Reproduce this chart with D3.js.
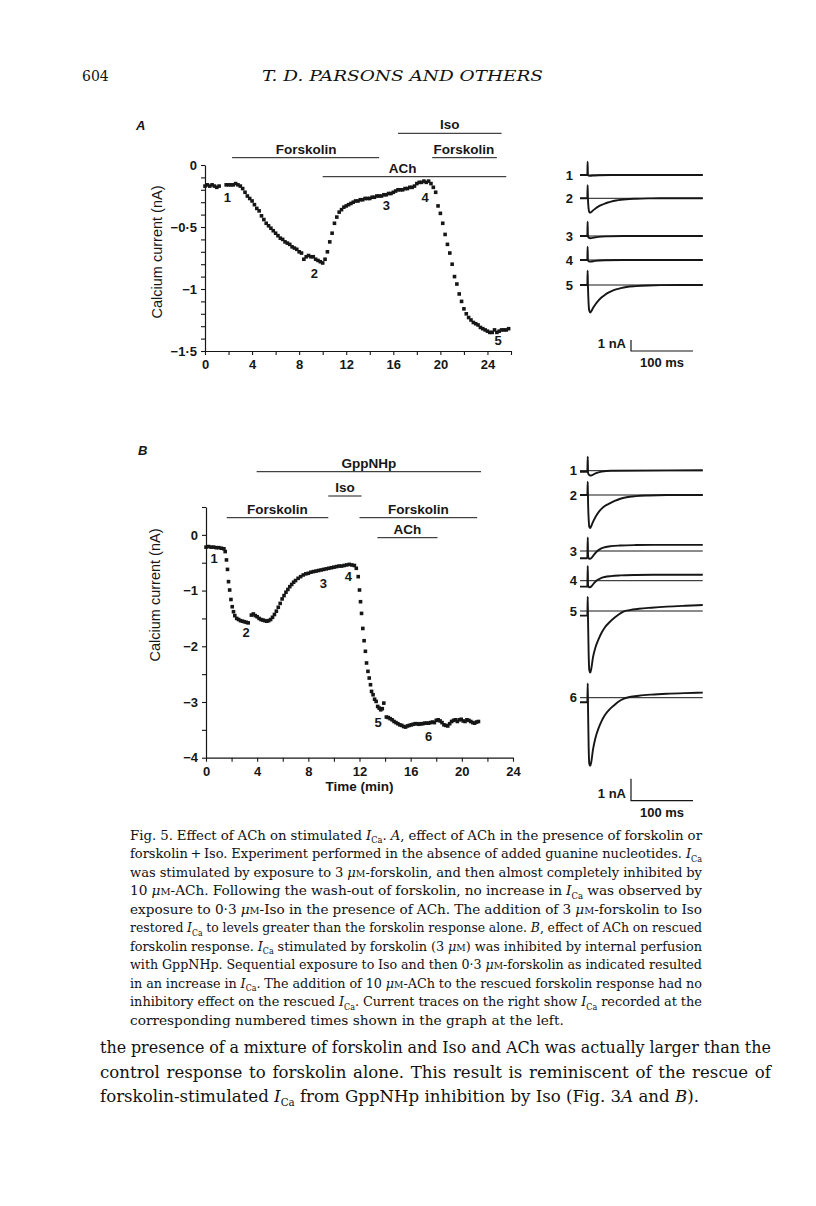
<!DOCTYPE html>
<html>
<head>
<meta charset="utf-8">
<script src="https://cdn.jsdelivr.net/npm/d3@7"></script>
<style>
  body { margin: 0; background: #fff; }
  svg { display: block; }
</style>
</head>
<body>
<svg id="page" width="816" height="1206"></svg>
<script>
'use strict'

// ---- panel A : time (min), calcium current (nA)
const aPoints = [
  [0, -0.17], [0.2, -0.16], [0.4, -0.17], [0.6, -0.16], [0.8, -0.17], [1.0, -0.18], [1.2, -0.17],
  [1.8, -0.16], [2.0, -0.16], [2.2, -0.16], [2.4, -0.16], [2.6, -0.15], [2.8, -0.16], [3.0, -0.17],
  [3.2, -0.19], [3.4, -0.22], [3.6, -0.25], [3.8, -0.27],
  [4.0, -0.29], [4.2, -0.32], [4.4, -0.35], [4.6, -0.37], [4.8, -0.41], [5.0, -0.44], [5.2, -0.47],
  [5.4, -0.49], [5.6, -0.51], [5.8, -0.53],
  [6.0, -0.55], [6.2, -0.57], [6.4, -0.59], [6.6, -0.60], [6.8, -0.62], [7.0, -0.63], [7.2, -0.64],
  [7.4, -0.66], [7.6, -0.67], [7.8, -0.68],
  [8.0, -0.70], [8.2, -0.71], [8.4, -0.76], [8.6, -0.74], [8.8, -0.73], [9.0, -0.74], [9.2, -0.74],
  [9.4, -0.76], [9.6, -0.77], [9.8, -0.78],
  [10.0, -0.79], [10.2, -0.76], [10.4, -0.70], [10.6, -0.62], [10.8, -0.55], [11.0, -0.47], [11.2, -0.42],
  [11.4, -0.38], [11.6, -0.36], [11.8, -0.34],
  [12.0, -0.33], [12.2, -0.32], [12.4, -0.31], [12.6, -0.30], [12.8, -0.29], [13.0, -0.29], [13.2, -0.28],
  [13.4, -0.28], [13.6, -0.27], [13.8, -0.27],
  [14.0, -0.27], [14.2, -0.26], [14.4, -0.26], [14.6, -0.25], [14.8, -0.25], [15.0, -0.25], [15.2, -0.24],
  [15.4, -0.24], [15.6, -0.23], [15.8, -0.23],
  [16.0, -0.22], [16.2, -0.21], [16.4, -0.20], [16.6, -0.20], [16.8, -0.20], [17.0, -0.19], [17.2, -0.19],
  [17.4, -0.18], [17.6, -0.18], [17.8, -0.17],
  [18.0, -0.15], [18.2, -0.14], [18.4, -0.14], [18.6, -0.13], [18.8, -0.14], [19.0, -0.13], [19.2, -0.15],
  [19.4, -0.18], [19.6, -0.22], [19.8, -0.33],
  [20.0, -0.39], [20.2, -0.47], [20.4, -0.56], [20.6, -0.64], [20.8, -0.71], [21.0, -0.80], [21.2, -0.90],
  [21.4, -0.96], [21.6, -1.04], [21.8, -1.10],
  [22.0, -1.16], [22.2, -1.20], [22.4, -1.23], [22.6, -1.25], [22.8, -1.27], [23.0, -1.28], [23.2, -1.29],
  [23.4, -1.31], [23.6, -1.32], [23.8, -1.33],
  [24.0, -1.34], [24.2, -1.35], [24.4, -1.35], [24.6, -1.33], [24.8, -1.35], [25.0, -1.34], [25.2, -1.33],
  [25.4, -1.33], [25.6, -1.33], [25.8, -1.32]
];
const aXTicks = [0, 4, 8, 12, 16, 20, 24];
const aXMinor = [2, 6, 10, 14, 18, 22, 26];
const aYTicks = [0, -0.5, -1, -1.5];
const aYMinor = [-0.1, -0.2, -0.3, -0.4, -0.6, -0.7, -0.8, -0.9, -1.1, -1.2, -1.3, -1.4];
const aMarks = ['1', '2', '3', '4', '5'];
const aMarkAt = [[1.9, -0.30], [9.3, -0.91], [15.4, -0.36], [18.7, -0.30], [24.9, -1.45]];
const aDrugs = ['Iso', 'Forskolin', 'Forskolin', 'ACh'];
const aDrugFrom = [16.4, 2.3, 19.3, 10.0];
const aDrugTo = [25.2, 14.8, 24.8, 25.6];
const aDrugLabelAt = [20.8, 8.6, 22.0, 16.8];
const aDrugRow = [0, 1, 1, 2];

// ---- panel B
const bPoints = [
  [0, -0.22], [0.2, -0.21], [0.4, -0.22], [0.6, -0.22], [0.8, -0.23], [1.0, -0.23], [1.2, -0.24], [1.4, -0.25],
  [1.5, -0.30], [1.6, -0.45], [1.68, -0.62], [1.76, -0.84], [1.85, -0.99], [1.95, -1.16], [2.05, -1.29],
  [2.15, -1.38], [2.25, -1.45], [2.4, -1.50], [2.55, -1.52], [2.7, -1.54], [2.85, -1.55], [3.0, -1.56],
  [3.15, -1.57], [3.3, -1.58],
  [3.55, -1.44], [3.7, -1.42], [3.85, -1.45], [4.0, -1.47], [4.15, -1.50], [4.3, -1.52], [4.45, -1.53],
  [4.6, -1.54], [4.75, -1.55], [4.9, -1.54], [5.05, -1.52], [5.2, -1.48], [5.35, -1.43], [5.5, -1.37],
  [5.65, -1.30], [5.8, -1.23], [5.95, -1.15], [6.1, -1.09], [6.25, -1.03], [6.4, -0.98], [6.55, -0.93],
  [6.7, -0.89], [6.85, -0.85], [7.0, -0.82], [7.2, -0.78], [7.4, -0.75], [7.6, -0.72], [7.8, -0.70],
  [8.0, -0.69], [8.2, -0.67], [8.4, -0.66], [8.6, -0.65], [8.8, -0.64], [9.0, -0.63], [9.2, -0.62],
  [9.4, -0.61], [9.6, -0.60], [9.8, -0.59], [10.0, -0.58], [10.2, -0.57], [10.4, -0.56], [10.6, -0.56],
  [10.8, -0.55], [11.0, -0.54], [11.2, -0.53], [11.4, -0.54], [11.6, -0.55], [11.75, -0.60],
  [11.9, -0.75], [12.0, -0.99], [12.08, -1.20], [12.16, -1.41], [12.26, -1.68], [12.36, -1.90],
  [12.46, -2.09], [12.55, -2.30], [12.66, -2.45], [12.76, -2.57], [12.86, -2.69], [12.94, -2.81],
  [13.06, -2.87], [13.18, -2.95], [13.3, -2.99], [13.42, -3.08], [13.54, -3.11], [13.66, -3.14],
  [13.78, -3.12], [13.9, -3.02],
  [14.1, -3.27], [14.25, -3.28], [14.4, -3.30], [14.55, -3.32], [14.7, -3.35], [14.85, -3.37], [15.0, -3.39],
  [15.15, -3.41], [15.3, -3.42], [15.45, -3.44], [15.6, -3.45], [15.75, -3.43], [15.9, -3.42], [16.05, -3.41],
  [16.2, -3.40], [16.35, -3.39], [16.5, -3.39], [16.65, -3.40], [16.8, -3.39], [16.95, -3.39], [17.1, -3.38],
  [17.25, -3.38], [17.4, -3.38], [17.55, -3.37], [17.7, -3.36], [17.85, -3.37], [18.0, -3.33], [18.15, -3.32],
  [18.3, -3.34], [18.45, -3.37], [18.6, -3.41], [18.75, -3.42], [18.9, -3.43], [19.05, -3.39], [19.2, -3.35],
  [19.35, -3.33], [19.5, -3.32], [19.65, -3.35], [19.8, -3.32], [19.95, -3.31], [20.1, -3.34], [20.25, -3.35],
  [20.4, -3.32], [20.55, -3.33], [20.7, -3.35], [20.85, -3.37], [21.0, -3.38], [21.15, -3.36], [21.3, -3.35]
];
const bXTicks = [0, 4, 8, 12, 16, 20, 24];
const bXMinor = [2, 6, 10, 14, 18, 22];
const bYTicks = [0, -1, -2, -3, -4];
const bYMinor = [0.5, -0.5, -1.5, -2.5, -3.5];
const bMarks = ['1', '2', '3', '4', '5', '6'];
const bMarkAt = [[0.63, -0.50], [3.13, -1.84], [9.17, -0.96], [11.13, -0.83], [13.45, -3.44], [17.4, -3.70]];
const bDrugs = ['GppNHp', 'Iso', 'Forskolin', 'Forskolin', 'ACh'];
const bDrugFrom = [3.96, 9.56, 1.62, 12.0, 13.4];
const bDrugTo = [21.5, 12.16, 9.56, 21.2, 18.1];
const bDrugRow = [0, 1, 2, 2, 3];

// ---- current traces (ms, nA relative to the thin zero line)
const tracesA = [
  [[0, 0], [11.8, 0], [12.3, 1.2], [12.8, 0], [15, -0.08], [20, -0.05], [30, -0.02], [50, 0], [198, 0]],
  [[0, 0], [11.8, 0], [12.3, 1.2], [12.8, 0], [13.8, -0.9], [15, -1.25], [16.5, -1.3], [18, -1.25], [21, -1.1],
    [25, -0.92], [30, -0.74], [35, -0.6], [40, -0.48], [45, -0.38], [50, -0.3], [58, -0.2], [66, -0.13],
    [75, -0.08], [90, -0.04], [110, -0.01], [130, 0], [198, 0]],
  [[0, 0], [11.8, 0], [12.3, 1.3], [12.8, 0], [14, -0.15], [17, -0.2], [22, -0.15], [30, -0.08], [45, -0.03],
    [70, 0], [198, 0]],
  [[0, 0], [11.8, 0], [12.3, 1.2], [12.8, 0], [14, -0.12], [17, -0.15], [24, -0.08], [40, -0.02], [70, 0], [198, 0]],
  [[0, 0], [11.8, 0], [12.3, 1.3], [12.8, 0], [13.8, -1.6], [15, -2.35], [16.5, -2.5], [18, -2.4], [21, -2.1],
    [25, -1.75], [30, -1.4], [35, -1.12], [40, -0.9], [45, -0.72], [50, -0.57], [58, -0.4], [66, -0.28],
    [75, -0.18], [90, -0.1], [110, -0.04], [130, -0.01], [198, 0]]
];
const tracesB = [
  [[0, -0.05], [11.8, -0.05], [12.5, 0.64], [13, -0.1], [15, -0.2], [18, -0.22], [25, -0.12], [35, -0.04],
    [50, 0], [198, 0.02]],
  [[0, 0], [11.8, 0], [12.5, 0.6], [13, -0.3], [14, -1.1], [15, -1.45], [16.5, -1.5], [18, -1.42], [21, -1.22],
    [25, -1.0], [30, -0.78], [35, -0.62], [40, -0.5], [48, -0.38], [56, -0.27], [65, -0.17], [75, -0.1],
    [90, -0.05], [110, -0.02], [140, 0], [198, 0]],
  [[0, -0.33], [11.8, -0.33], [12.5, 0.62], [13, -0.2], [14, -0.33], [16, -0.36], [19, -0.3], [23, -0.15],
    [28, 0], [33, 0.1], [40, 0.17], [50, 0.22], [65, 0.25], [90, 0.27], [130, 0.28], [198, 0.28]],
  [[0, -0.27], [11.8, -0.27], [12.5, 0.67], [13, -0.2], [14, -0.28], [16, -0.3], [19, -0.24], [23, -0.1],
    [28, 0.03], [33, 0.11], [40, 0.17], [50, 0.21], [65, 0.24], [90, 0.26], [130, 0.27], [198, 0.27]],
  [[0, -0.21], [11.8, -0.21], [12.5, 0.65], [13, -0.5], [14, -2.0], [15, -2.7], [16.5, -2.8], [18, -2.65],
    [21, -2.1], [25, -1.65], [30, -1.28], [35, -0.98], [40, -0.75], [48, -0.5], [56, -0.3], [63, -0.15],
    [70, -0.03], [80, 0.04], [95, 0.1], [115, 0.15], [140, 0.2], [170, 0.24], [198, 0.27]],
  [[0, -0.21], [11.8, -0.21], [12.5, 0.65], [13, -0.6], [14, -2.3], [15, -3.0], [16.5, -3.1], [18, -2.95],
    [21, -2.35], [25, -1.82], [30, -1.38], [35, -1.05], [40, -0.8], [48, -0.52], [56, -0.32], [63, -0.16],
    [70, -0.05], [80, 0.03], [95, 0.09], [115, 0.14], [140, 0.18], [170, 0.21], [198, 0.23]]
];

// ---- text
const captionLines = [
  'Fig. 5. Effect of ACh on stimulated {Ica}. {i:A}, effect of ACh in the presence of forskolin or',
  'forskolin\u2009+\u2009Iso. Experiment performed in the absence of added guanine nucleotides. {Ica}',
  'was stimulated by exposure to 3 {uM}-forskolin, and then almost completely inhibited by',
  '10 {uM}-ACh. Following the wash-out of forskolin, no increase in {Ica} was observed by',
  'exposure to 0\u00b73 {uM}-Iso in the presence of ACh. The addition of 3 {uM}-forskolin to Iso',
  'restored {Ica} to levels greater than the forskolin response alone. {i:B}, effect of ACh on rescued',
  'forskolin response. {Ica} stimulated by forskolin (3 {uM}) was inhibited by internal perfusion',
  'with GppNHp. Sequential exposure to Iso and then 0\u00b73 {uM}-forskolin as indicated resulted',
  'in an increase in {Ica}. The addition of 10 {uM}-ACh to the rescued forskolin response had no',
  'inhibitory effect on the rescued {Ica}. Current traces on the right show {Ica} recorded at the',
  'corresponding numbered times shown in the graph at the left.'
];
const bodyLines = [
  'the presence of a mixture of forskolin and Iso and ACh was actually larger than the',
  'control response to forskolin alone. This result is reminiscent of the rescue of',
  'forskolin-stimulated {Ica} from GppNHp inhibition by Iso (Fig. 3{i:A} and {i:B}).'
];

const SANS = "'Liberation Sans', Arial, Helvetica, sans-serif";
const SERIF = "'DejaVu Serif', 'Liberation Serif', serif";
const INK = '#161616';

const svg = d3.select('#page');

const xA = d3.scaleLinear().domain([0, 26]).range([205, 511]);
const yA = d3.scaleLinear().domain([-1.5, 0]).range([351, 165]);
const xB = d3.scaleLinear().domain([0, 24]).range([206, 513]);
const yB = d3.scaleLinear().domain([-4, 0.5]).range([757.7, 507]);

function fmtNum (d) {
  if (d === 0) return '0';
  return (d < 0 ? '\u2212' : '') + String(Math.abs(d)).replace('.', '\u00b7');
}

function styleAxis (sel) {
  sel.select('.domain').attr('stroke', INK).attr('stroke-width', 1.2);
  sel.selectAll('.tick line').attr('stroke', INK).attr('stroke-width', 1.1);
  sel.selectAll('.tick text')
    .attr('fill', INK)
    .style('font-family', SANS)
    .style('font-weight', 'bold')
    .style('font-size', '13px');
}

function drawGraph (o) {
  const g = svg.append('g');
  const x0 = o.x.range()[0];
  const yBottom = o.y.range()[0];

  // minor ticks
  g.append('g').attr('transform', `translate(0,${yBottom})`)
    .call(d3.axisBottom(o.x).tickValues(o.xMinor).tickSize(4).tickFormat(''))
    .call(s => s.select('.domain').remove())
    .call(styleAxis);
  g.append('g').attr('transform', `translate(${x0},0)`)
    .call(d3.axisLeft(o.y).tickValues(o.yMinor).tickSize(4).tickFormat(''))
    .call(s => s.select('.domain').remove())
    .call(styleAxis);

  // main axes
  g.append('g').attr('transform', `translate(0,${yBottom})`)
    .call(d3.axisBottom(o.x).tickValues(o.xTicks).tickSize(4).tickSizeOuter(0).tickPadding(5).tickFormat(fmtNum))
    .call(styleAxis);
  g.append('g').attr('transform', `translate(${x0},0)`)
    .call(d3.axisLeft(o.y).tickValues(o.yTicks).tickSize(4).tickSizeOuter(0).tickPadding(4).tickFormat(fmtNum))
    .call(styleAxis);

  // data points
  g.append('g').selectAll('rect')
    .data(o.points)
    .enter().append('rect')
      .attr('x', d => o.x(d[0]) - 1.8)
      .attr('y', d => o.y(d[1]) - 1.8)
      .attr('width', 3.6)
      .attr('height', 3.6)
      .attr('fill', INK);

  // numbered times
  g.append('g').selectAll('text')
    .data(o.marks)
    .enter().append('text')
      .attr('x', (d, i) => o.x(o.markAt[i][0]))
      .attr('y', (d, i) => o.y(o.markAt[i][1]))
      .attr('text-anchor', 'middle')
      .attr('fill', INK)
      .style('font-family', SANS)
      .style('font-weight', 'bold')
      .style('font-size', '13px')
      .text(d => d);

  // drug application bars
  const bars = g.append('g');
  o.drugs.forEach((name, i) => {
    const ly = o.rowY[o.drugRow[i]];
    const xa = o.x(o.drugFrom[i]);
    const xb = o.x(o.drugTo[i]);
    const lx = o.drugLabelAt ? o.x(o.drugLabelAt[i]) : (xa + xb) / 2;
    bars.append('line')
      .attr('x1', xa).attr('x2', xb)
      .attr('y1', ly).attr('y2', ly)
      .attr('stroke', INK).attr('stroke-width', 1);
    bars.append('text')
      .attr('x', lx).attr('y', ly - 4)
      .attr('text-anchor', 'middle')
      .attr('fill', INK)
      .style('font-family', SANS)
      .style('font-weight', 'bold')
      .style('font-size', '13.5px')
      .text(name);
  });

  // y axis title
  g.append('text')
    .attr('transform', `translate(${o.yTitleX},${o.yTitleY}) rotate(-90)`)
    .attr('text-anchor', 'middle')
    .attr('fill', INK)
    .style('font-family', SANS)
    .style('font-size', '14.5px')
    .text('Calcium current (nA)');

  // panel letter
  g.append('text')
    .attr('x', o.letterX).attr('y', o.letterY)
    .attr('fill', INK)
    .style('font-family', SANS)
    .style('font-style', 'italic')
    .style('font-weight', 'bold')
    .style('font-size', '13px')
    .text(o.letter);
  return g;
}

function drawTraces (o) {
  const g = svg.append('g');
  const tx = d3.scaleLinear().domain([0, 200]).range([580, 704]);
  o.traces.forEach((pts, i) => {
    const base = o.base[i];
    const ty = d3.scaleLinear().domain([0, 1]).range([base, base - o.pxPerNa]);
    // thin zero line
    g.append('line')
      .attr('x1', tx(0)).attr('x2', tx(198))
      .attr('y1', base).attr('y2', base)
      .attr('stroke', INK).attr('stroke-width', 1);
    const line = d3.line()
      .x(d => tx(d[0]))
      .y(d => ty(d[1]))
      .curve(d3.curveMonotoneX);
    g.append('path')
      .attr('d', line(pts))
      .attr('fill', 'none')
      .attr('stroke', INK)
      .attr('stroke-width', 1.9)
      .attr('stroke-linejoin', 'round');
    g.append('text')
      .attr('x', o.labelX).attr('y', base)
      .attr('dy', '0.36em')
      .attr('text-anchor', 'end')
      .attr('fill', INK)
      .style('font-family', SANS)
      .style('font-weight', 'bold')
      .style('font-size', '13px')
      .text(i + 1);
  });

  // scale bars: 1 nA and 100 ms
  const bx = 631;
  const by = o.barY;
  const barW = tx(100) - tx(0);
  g.append('path')
    .attr('d', `M${bx},${by - o.pxPerNa}V${by}H${bx + barW}`)
    .attr('fill', 'none')
    .attr('stroke', INK)
    .attr('stroke-width', 1.2);
  g.append('text')
    .attr('x', bx - 5).attr('y', by - 3)
    .attr('text-anchor', 'end')
    .attr('fill', INK)
    .style('font-family', SANS).style('font-weight', 'bold').style('font-size', '13px')
    .text('1 nA');
  g.append('text')
    .attr('x', bx + barW / 2).attr('y', by + 16)
    .attr('text-anchor', 'middle')
    .attr('fill', INK)
    .style('font-family', SANS).style('font-weight', 'bold').style('font-size', '13px')
    .text('100 ms');
}

// one word of running text, with italic, subscript and small-cap pieces
function richWord (parent, word, y, size) {
  const t = parent.append('text')
    .attr('y', y)
    .attr('fill', '#111')
    .style('font-family', SERIF)
    .style('font-size', size + 'px');
  let shift = 0;
  function span (txt, target, fn) {
    const s = t.append('tspan').text(txt);
    if (target !== shift) { s.attr('dy', target - shift); shift = target; }
    if (fn) fn(s);
  }
  word.split(/(\{[^}]+\})/).filter(p => p.length).forEach(p => {
    if (p === '{Ica}') {
      span('I', 0, s => s.style('font-style', 'italic'));
      span('Ca', size * 0.22, s => s.style('font-size', (size * 0.62) + 'px'));
    } else if (p === '{uM}') {
      span('\u03bc', 0, s => s.style('font-style', 'italic'));
      span('M', 0, s => s.style('font-size', (size * 0.72) + 'px'));
    } else if (p.indexOf('{i:') === 0) {
      span(p.slice(3, -1), 0, s => s.style('font-style', 'italic'));
    } else {
      span(p, 0);
    }
  });
  return t;
}

// justified line: words laid out one by one, spare room shared between the gaps;
// a line that is too long for its measure is squeezed a little sideways
function richLine (parent, str, x, y, size, width) {
  const g = parent.append('g');
  const words = str.split(' ').map(w => richWord(g, w, y, size));
  const lens = words.map(w => w.node().getComputedTextLength());
  const total = d3.sum(lens);
  const minGap = size * 0.3;
  let gap = size * 0.32;
  let sx = 1;
  if (width) {
    gap = (width - total) / (words.length - 1);
    if (gap < minGap) {
      gap = minGap;
      sx = width / (total + gap * (words.length - 1));
    }
  }
  let cx = 0;
  words.forEach((w, i) => {
    w.attr('x', cx);
    cx += lens[i] + gap;
  });
  g.attr('transform', `translate(${x},0) scale(${sx},1)`);
  return g;
}

// ---- page header
svg.append('text')
  .attr('x', 82).attr('y', 81)
  .attr('fill', '#111')
  .style('font-family', SERIF).style('font-size', '14px')
  .text('604');
svg.append('text')
  .attr('x', 262).attr('y', 81)
  .attr('textLength', 281).attr('lengthAdjust', 'spacingAndGlyphs')
  .attr('fill', '#111')
  .style('font-family', SERIF).style('font-style', 'italic').style('font-size', '15.5px')
  .text('T. D. PARSONS AND OTHERS');

// ---- graphs
drawGraph({
  x: xA, y: yA, points: aPoints,
  xTicks: aXTicks, xMinor: aXMinor, yTicks: aYTicks, yMinor: aYMinor,
  marks: aMarks, markAt: aMarkAt,
  drugs: aDrugs, drugFrom: aDrugFrom, drugTo: aDrugTo, drugRow: aDrugRow, drugLabelAt: aDrugLabelAt,
  rowY: [133.3, 157.7, 176.7],
  yTitleX: 162, yTitleY: 252,
  letter: 'A', letterX: 136, letterY: 130
});
drawGraph({
  x: xB, y: yB, points: bPoints,
  xTicks: bXTicks, xMinor: bXMinor, yTicks: bYTicks, yMinor: bYMinor,
  marks: bMarks, markAt: bMarkAt,
  drugs: bDrugs, drugFrom: bDrugFrom, drugTo: bDrugTo, drugRow: bDrugRow,
  rowY: [471.7, 496, 517.7, 537.7],
  yTitleX: 160, yTitleY: 595,
  letter: 'B', letterX: 138, letterY: 455
});
svg.append('text')
  .attr('x', xB(12)).attr('y', 791)
  .attr('text-anchor', 'middle')
  .attr('fill', INK)
  .style('font-family', SANS).style('font-weight', 'bold').style('font-size', '13.5px')
  .text('Time (min)');

drawTraces({ traces: tracesA, base: [175, 198.3, 236, 260, 285], pxPerNa: 11, labelX: 573, barY: 351 });
drawTraces({ traces: tracesB, base: [470.7, 495, 551, 580.7, 611, 697.7], pxPerNa: 22, labelX: 577, barY: 800.7 });

// ---- caption and running text
const cap = svg.append('g');
captionLines.forEach((s, i) => {
  const last = i === captionLines.length - 1;
  richLine(cap, s, 130, 840 + i * 18.5, 13.7, last ? null : 572);
});
const body = svg.append('g');
bodyLines.forEach((s, i) => {
  const last = i === bodyLines.length - 1;
  richLine(body, s, 100, 1053 + i * 24.5, 16.6, last ? null : 671);
});
</script>
</body>
</html>
